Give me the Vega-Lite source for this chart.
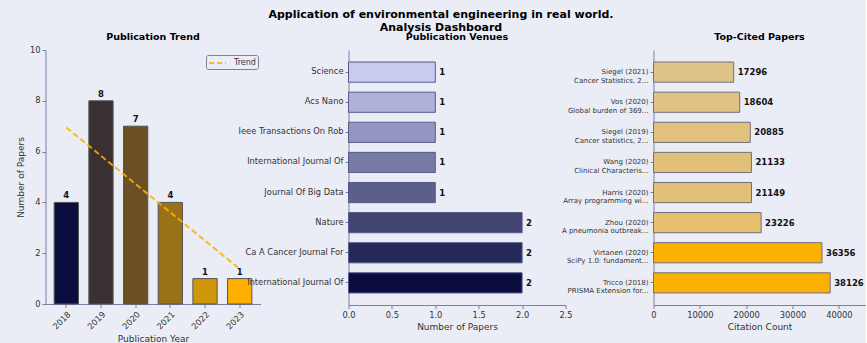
{
  "$schema": "https://vega.github.io/schema/vega-lite/v6.json",
  "background": "#eaedf6",
  "padding": {"left": 15.5, "top": 8, "right": 0, "bottom": 0},
  "title": {
    "text": ["Application of environmental engineering in real world.", "Analysis Dashboard"],
    "fontSize": 11,
    "fontWeight": "bold",
    "font": "DejaVu Sans",
    "color": "#000000",
    "anchor": "middle",
    "offset": -1,
    "lineHeight": 13
  },
  "datasets": {
    "years": [
      {"year": 2018, "papers": 4},
      {"year": 2019, "papers": 8},
      {"year": 2020, "papers": 7},
      {"year": 2021, "papers": 4},
      {"year": 2022, "papers": 1},
      {"year": 2023, "papers": 1}
    ],
    "trend": [
      {"year": 2018, "trend": 6.95},
      {"year": 2023, "trend": 1.38}
    ],
    "venues": [
      {"venue": "Science#1", "papers": 1},
      {"venue": "Acs Nano#2", "papers": 1},
      {"venue": "Ieee Transactions On Rob#3", "papers": 1},
      {"venue": "International Journal Of#4", "papers": 1},
      {"venue": "Journal Of Big Data#5", "papers": 1},
      {"venue": "Nature#6", "papers": 2},
      {"venue": "Ca A Cancer Journal For #7", "papers": 2},
      {"venue": "International Journal Of#8", "papers": 2}
    ],
    "papers": [
      {"paper": "Siegel (2021)|Cancer Statistics, 2...", "citations": 17296},
      {"paper": "Vos (2020)|Global burden of 369...", "citations": 18604},
      {"paper": "Siegel (2019)|Cancer statistics, 2...", "citations": 20885},
      {"paper": "Wang (2020)|Clinical Characteris...", "citations": 21133},
      {"paper": "Harris (2020)|Array programming wi...", "citations": 21149},
      {"paper": "Zhou (2020)|A pneumonia outbreak...", "citations": 23226},
      {"paper": "Virtanen (2020)|SciPy 1.0: fundament...", "citations": 36356},
      {"paper": "Tricco (2018)|PRISMA Extension for...", "citations": 38126}
    ]
  },
  "config": {
    "font": "DejaVu Sans",
    "view": {"stroke": null},
    "axis": {
      "grid": false,
      "labelFlush": false,
      "domainColor": "#7b7fa3",
      "tickColor": "#7b7fa3",
      "labelColor": "#333333",
      "titleColor": "#333333",
      "labelFontSize": 8.3,
      "titleFontSize": 9,
      "titleFontWeight": "normal",
      "tickSize": 3.5,
      "labelPadding": 2
    },
    "title": {"fontSize": 9.5, "fontWeight": "bold", "color": "#000000", "offset": 9}
  },
  "bounds": "flush",
  "spacing": 88,
  "resolve": {
    "scale": {"fill": "independent", "stroke": "independent"},
    "legend": {"fill": "independent", "stroke": "independent"}
  },
  "hconcat": [
    {
      "width": 215,
      "height": 254,
      "title": {"text": "Publication Trend", "offset": 4},
      "layer": [
        {
          "data": {"name": "years"},
          "mark": {"type": "bar", "stroke": "#555555", "strokeWidth": 1},
          "encoding": {
            "x": {"field": "year", "type": "ordinal", "scale": {"paddingInner": 0.3, "paddingOuter": 0.25},
                  "axis": {"title": "Publication Year", "labelAngle": -45, "labelAlign": "right", "labelBaseline": "top"}},
            "y": {"field": "papers", "type": "quantitative", "scale": {"domain": [0, 10]},
                  "axis": {"values": [0, 2, 4, 6, 8, 10], "title": "Number of Papers"}},
            "fill": {"field": "year", "type": "ordinal", "legend": null,
                     "scale": {"range": ["#0b0d3f", "#3a2f33", "#6a5024", "#9a7019", "#cf970c", "#fdb000"]}}
          }
        },
        {
          "data": {"name": "years"},
          "mark": {"type": "text", "baseline": "bottom", "dy": -2, "fontWeight": "bold", "fontSize": 8.5, "color": "#111111"},
          "encoding": {
            "x": {"field": "year", "type": "ordinal"},
            "y": {"field": "papers", "type": "quantitative"},
            "text": {"field": "papers", "type": "quantitative"}
          }
        },
        {
          "data": {"name": "trend"},
          "mark": {"type": "line", "strokeDash": [6, 3], "strokeWidth": 2, "opacity": 0.85},
          "encoding": {
            "x": {"field": "year", "type": "ordinal"},
            "y": {"field": "trend", "type": "quantitative"},
            "stroke": {"datum": "Trend", "scale": {"range": ["#fbb000"]},
                       "legend": {"title": null, "orient": "none", "legendX": 160.5, "legendY": 5,
                                  "symbolType": "M-1.7,0H1.7", "symbolStrokeWidth": 2, "symbolDash": [5, 3],
                                  "symbolSize": 100, "symbolOffset": 3.5, "labelOffset": 10.5,
                                  "labelFontSize": 8, "labelColor": "#333333",
                                  "strokeColor": "#7b7fa3", "padding": 2, "cornerRadius": 2,
                                  "fillColor": "#eaedf6"}}
          }
        }
      ]
    },
    {
      "width": 217,
      "height": 255,
      "title": "Publication Venues",
      "data": {"name": "venues"},
      "encoding": {
        "y": {"field": "venue", "type": "nominal", "sort": null,
              "scale": {"paddingInner": 0.33, "paddingOuter": 0.4},
              "axis": {"title": null, "labelExpr": "split(datum.label, '#')[0]"}},
        "x": {"field": "papers", "type": "quantitative", "scale": {"domain": [0, 2.5]},
              "axis": {"values": [0, 0.5, 1, 1.5, 2, 2.5], "format": ".1f", "title": "Number of Papers"}}
      },
      "layer": [
        {
          "mark": {"type": "bar", "stroke": "#55598a", "strokeWidth": 1},
          "encoding": {
            "fill": {"field": "venue", "type": "nominal", "sort": null, "legend": null,
                     "scale": {"range": ["#c8cbef", "#aeb1d9", "#9396be", "#777ba3", "#5c5f8a", "#414471", "#262a58", "#0b0d3f"]}}
          }
        },
        {
          "mark": {"type": "text", "align": "left", "dx": 4, "fontWeight": "bold", "fontSize": 8.5, "color": "#111111"},
          "encoding": {"text": {"field": "papers", "type": "quantitative"}}
        }
      ]
    },
    {
      "width": 212,
      "height": 255,
      "title": "Top-Cited Papers",
      "data": {"name": "papers"},
      "encoding": {
        "y": {"field": "paper", "type": "nominal", "sort": null,
              "scale": {"paddingInner": 0.33, "paddingOuter": 0.4},
              "axis": {"title": null, "labelExpr": "split(datum.label, '|')", "labelFontSize": 7, "labelLineHeight": 8.5}},
        "x": {"field": "citations", "type": "quantitative", "scale": {"domain": [0, 45751], "nice": false},
              "axis": {"values": [0, 10000, 20000, 30000, 40000], "format": "d", "title": "Citation Count"}}
      },
      "layer": [
        {
          "mark": {"type": "bar", "stroke": "#6f6f80", "strokeWidth": 1},
          "encoding": {
            "fill": {"field": "paper", "type": "nominal", "sort": null, "legend": null,
                     "scale": {"range": ["#dfc389", "#e0c283", "#e1c17b", "#e2c078", "#e2c076", "#e5bf6b", "#fbb100", "#fcb000"]}}
          }
        },
        {
          "mark": {"type": "text", "align": "left", "dx": 4, "fontWeight": "bold", "fontSize": 8.5, "color": "#111111"},
          "encoding": {"text": {"field": "citations", "type": "quantitative", "format": "d"}}
        }
      ]
    }
  ]
}
